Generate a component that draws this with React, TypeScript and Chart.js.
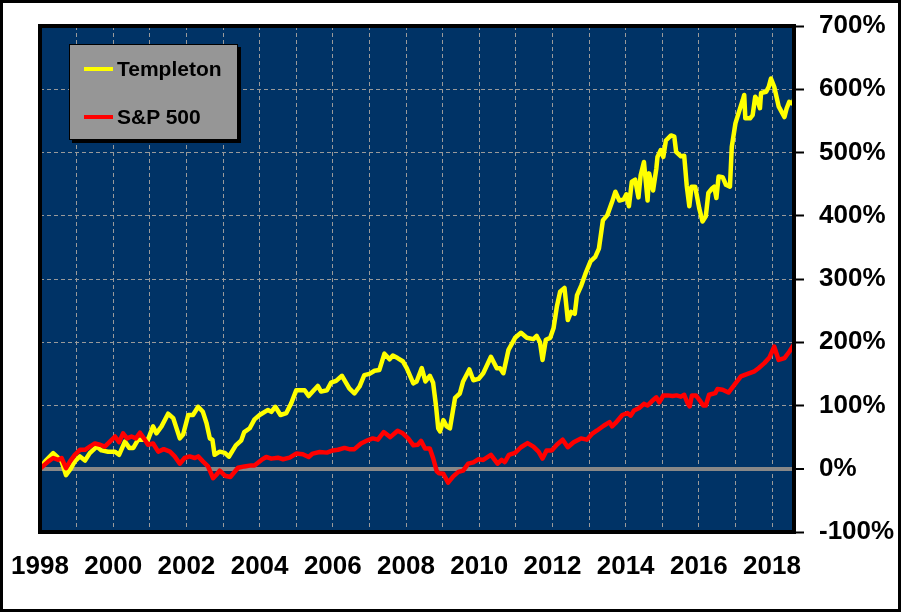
import React, { useEffect, useRef } from 'react'
import { Chart, LineController, LineElement, PointElement, LinearScale } from 'chart.js'

Chart.register(LineController, LineElement, PointElement, LinearScale)

// Templeton, cumulative return (%) by decimal year
const templetonYears = [
  1998.0, 1998.14, 1998.36, 1998.5, 1998.59, 1998.71, 1998.82, 1998.95, 1999.09, 1999.23, 1999.36, 1999.55, 1999.68, 1999.86,
  2000.05, 2000.16, 2000.32, 2000.44, 2000.55, 2000.68, 2000.82, 2000.95, 2001.09, 2001.18, 2001.32, 2001.5, 2001.64, 2001.82,
  2001.91, 2002.05, 2002.18, 2002.32, 2002.45, 2002.55, 2002.64, 2002.71, 2002.77, 2002.91, 2003.05, 2003.16, 2003.35, 2003.5,
  2003.58, 2003.73, 2003.86, 2004.0, 2004.23, 2004.32, 2004.43, 2004.57, 2004.73, 2004.86, 2005.0, 2005.23, 2005.34, 2005.45,
  2005.59, 2005.68, 2005.84, 2005.95, 2006.09, 2006.25, 2006.45, 2006.59, 2006.73, 2006.86, 2007.0, 2007.14, 2007.27, 2007.41,
  2007.55, 2007.64, 2007.77, 2007.91, 2008.02, 2008.2, 2008.29, 2008.43, 2008.53, 2008.65, 2008.74, 2008.82, 2008.88, 2008.93,
  2009.02, 2009.11, 2009.2, 2009.34, 2009.47, 2009.56, 2009.73, 2009.84, 2009.98, 2010.11, 2010.32, 2010.48, 2010.57, 2010.66,
  2010.8, 2010.98, 2011.14, 2011.3, 2011.48, 2011.57, 2011.66, 2011.73, 2011.82, 2011.94, 2012.03, 2012.12, 2012.21, 2012.33,
  2012.42, 2012.51, 2012.61, 2012.67, 2012.79, 2012.9, 2013.04, 2013.17, 2013.27, 2013.38, 2013.5, 2013.63, 2013.72, 2013.83,
  2013.95, 2014.02, 2014.09, 2014.17, 2014.26, 2014.35, 2014.41, 2014.5, 2014.6, 2014.64, 2014.75, 2014.84, 2014.87, 2014.96,
  2015.03, 2015.1, 2015.24, 2015.33, 2015.38, 2015.51, 2015.6, 2015.67, 2015.74, 2015.8, 2015.9, 2016.01, 2016.1, 2016.19,
  2016.26, 2016.36, 2016.42, 2016.48, 2016.54, 2016.65, 2016.74, 2016.85, 2016.9, 2017.0, 2017.1, 2017.2, 2017.24, 2017.27,
  2017.4, 2017.47, 2017.54, 2017.6, 2017.67, 2017.7, 2017.84, 2017.91, 2017.97, 2018.06, 2018.18, 2018.34, 2018.4, 2018.47,
  2018.57, 2018.61, 2018.66,
]
const templetonValues = [
  0, 11.6, 24.7, 17, 11.6, -10, -1.6, 11.6, 19.5, 13, 24.7, 35, 29, 27,
  27, 22, 43, 33, 33, 46, 46, 46, 67, 56, 67, 87, 80, 48,
  54, 85, 85, 98, 90, 72, 48, 46, 22, 27, 25, 19, 37, 45,
  58, 64, 78, 85, 93, 90, 98, 85, 88, 103, 124, 124, 115, 122,
  131, 122, 124, 136, 139, 147, 127, 119, 130, 148, 150, 155, 156, 182,
  173, 179, 175, 170, 159, 135, 138, 159, 138, 147, 136, 99, 64, 59,
  77, 67, 64, 112, 119, 138, 157, 140, 142, 151, 177, 159, 159, 151,
  188, 207, 215, 207, 205, 210, 200, 172, 204, 207, 222, 256, 280, 286,
  235, 248, 245, 274, 290, 308, 328, 335, 348, 393, 401, 422, 438, 424,
  426, 434, 415, 454, 457, 429, 464, 485, 424, 467, 440, 475, 493, 504,
  493, 519, 527, 525, 501, 494, 495, 447, 415, 446, 446, 412, 391, 399,
  436, 443, 446, 428, 462, 461, 449, 446, 509, 546, 565, 583, 591, 554,
  554, 559, 588, 583, 570, 594, 596, 604, 617, 604, 573, 556, 570, 580,
  577, 586, 557,
]

// S&P 500, cumulative return (%) by decimal year
const spYears = [
  1998.0, 1998.23, 1998.36, 1998.5, 1998.59, 1998.71, 1998.82, 1998.95, 1999.09, 1999.23, 1999.36, 1999.5, 1999.64, 1999.77,
  1999.91, 2000.05, 2000.16, 2000.27, 2000.38, 2000.5, 2000.62, 2000.73, 2000.84, 2000.95, 2001.09, 2001.23, 2001.38, 2001.55,
  2001.68, 2001.82, 2001.95, 2002.09, 2002.23, 2002.32, 2002.45, 2002.59, 2002.73, 2002.82, 2002.91, 2003.05, 2003.2, 2003.41,
  2003.59, 2003.77, 2003.86, 2004.05, 2004.18, 2004.32, 2004.5, 2004.64, 2004.82, 2005.0, 2005.18, 2005.34, 2005.45, 2005.64,
  2005.84, 2006.0, 2006.14, 2006.32, 2006.45, 2006.59, 2006.77, 2006.95, 2007.09, 2007.23, 2007.39, 2007.57, 2007.77, 2007.91,
  2008.06, 2008.2, 2008.32, 2008.41, 2008.52, 2008.65, 2008.74, 2008.84, 2008.9, 2009.02, 2009.15, 2009.29, 2009.43, 2009.56,
  2009.7, 2009.84, 2009.98, 2010.11, 2010.32, 2010.5, 2010.61, 2010.7, 2010.81, 2010.98, 2011.14, 2011.32, 2011.48, 2011.62,
  2011.73, 2011.84, 2011.98, 2012.12, 2012.28, 2012.42, 2012.58, 2012.78, 2012.94, 2013.08, 2013.22, 2013.4, 2013.56, 2013.63,
  2013.72, 2013.91, 2014.05, 2014.14, 2014.23, 2014.37, 2014.5, 2014.6, 2014.72, 2014.84, 2014.92, 2015.03, 2015.15, 2015.28,
  2015.39, 2015.51, 2015.6, 2015.69, 2015.75, 2015.81, 2015.92, 2016.05, 2016.12, 2016.19, 2016.28, 2016.45, 2016.51, 2016.65,
  2016.81, 2016.97, 2017.15, 2017.33, 2017.52, 2017.63, 2017.79, 2017.93, 2018.06, 2018.18, 2018.34, 2018.47, 2018.66,
]
const spValues = [
  0, 11.6, 17, 14, 17, 1, 11.6, 22, 30, 30, 35, 40, 38, 35,
  43, 51, 42, 56, 48, 51, 48, 57, 48, 38, 40, 27, 31, 27,
  19.5, 8, 17, 19.5, 17, 19.5, 11.6, 3.7, -15, -9.5, -3, -11, -13, 1.6,
  3.7, 5.3, 5.3, 14, 18.6, 16, 17.5, 15, 17.5, 24, 23, 18.6, 24, 26.5,
  25.5, 29, 30, 33, 31, 31, 40, 45, 48, 46, 58, 50, 60, 56,
  48, 37, 38, 44, 32, 32, 17, -4, -7, -8, -22, -12, -5, -3,
  8, 10, 15, 14, 22, 8, 14, 10.5, 22, 25, 34, 40.6, 35, 27,
  16, 29, 29, 38, 46, 34, 42, 48, 46, 55, 60.5, 68, 73.6, 67,
  72, 85, 88, 84, 92, 96, 102.6, 100, 107, 113, 105, 116, 116, 115,
  116, 114, 117, 104, 98.5, 116, 116, 106, 100, 100, 117, 119.5, 126, 125,
  120.5, 132.7, 146, 150, 154, 159, 167, 176, 193, 172, 175, 185, 202,
]

const yearTicks = [1998, 2000, 2002, 2004, 2006, 2008, 2010, 2012, 2014, 2016, 2018]
const percentTicks = [-100, 0, 100, 200, 300, 400, 500, 600, 700]

const NAVY = '#003366'
const FONT = 'Arial, "Liberation Sans", sans-serif'

const plotFrame = {
  id: 'plotFrame',
  beforeDraw(chart: Chart) {
    const { ctx, chartArea: a } = chart
    ctx.save()
    ctx.fillStyle = NAVY
    ctx.fillRect(a.left, a.top, a.width, a.height)
    ctx.restore()
  },
  afterDraw(chart: Chart) {
    const { ctx, chartArea: a } = chart
    ctx.save()
    ctx.strokeStyle = '#000'
    ctx.lineWidth = 4
    ctx.strokeRect(a.left, a.top, a.width, a.height)
    ctx.restore()
  },
}

const legendText: React.CSSProperties = {
  fontFamily: FONT,
  fontWeight: 'bold',
  fontSize: 21,
  color: '#000',
  lineHeight: '24px',
}

export default function App() {
  const canvasRef = useRef<HTMLCanvasElement>(null)
  const chartRef = useRef<Chart | null>(null)

  useEffect(() => {
    if (!canvasRef.current) return
    chartRef.current?.destroy()

    chartRef.current = new Chart(canvasRef.current, {
      type: 'line',
      data: {
        datasets: [
          {
            label: 'S&P 500',
            data: spYears.map((x, i) => ({ x, y: spValues[i] })),
            borderColor: '#ff0000',
            borderWidth: 4.5,
            pointRadius: 0,
            tension: 0,
            borderJoinStyle: 'round',
          },
          {
            label: 'Templeton',
            data: templetonYears.map((x, i) => ({ x, y: templetonValues[i] })),
            borderColor: '#ffff00',
            borderWidth: 4.5,
            pointRadius: 0,
            tension: 0,
            borderJoinStyle: 'round',
          },
        ],
      },
      plugins: [plotFrame],
      options: {
        responsive: false,
        animation: false,
        events: [],
        layout: { padding: { left: 37, top: 23, right: 0, bottom: 0 } },
        plugins: { legend: { display: false }, tooltip: { enabled: false } },
        scales: {
          x: {
            type: 'linear',
            min: 1998,
            max: 2018.6,
            afterFit: (scale: any) => {
              scale.height = 77
              scale.paddingLeft = 0
              scale.paddingRight = 0
            },
            grid: { color: '#9a9a9a', lineWidth: 1, drawTicks: false },
            border: { display: false, dash: [4, 3] },
            ticks: {
              stepSize: 1,
              includeBounds: false,
              autoSkip: false,
              maxRotation: 0,
              padding: 19,
              color: '#000',
              font: { family: FONT, size: 26, weight: 'bold' },
              callback: (v: any) => (yearTicks.includes(Number(v)) ? String(v) : ''),
            },
          },
          y: {
            type: 'linear',
            position: 'right',
            min: percentTicks[0],
            max: percentTicks[percentTicks.length - 1],
            afterFit: (scale: any) => {
              scale.width = 104
              scale.paddingTop = 0
              scale.paddingBottom = 0
            },
            grid: {
              color: (c: any) => (c.tick && c.tick.value === 0 ? '#888888' : '#9a9a9a'),
              lineWidth: (c: any) => (c.tick && c.tick.value === 0 ? 4 : 1),
              tickLength: 10,
              tickColor: '#000',
              tickWidth: 2,
              tickBorderDash: [],
            },
            border: {
              display: false,
              dash: (c: any) => (c.tick && c.tick.value === 0 ? [] : [4, 3]),
            },
            ticks: {
              stepSize: 100,
              padding: 15,
              color: '#000',
              font: { family: FONT, size: 26, weight: 'bold' },
              callback: (v: any) => `${v}%`,
            },
          },
        },
      },
    })

    return () => {
      chartRef.current?.destroy()
      chartRef.current = null
    }
  }, [])

  return (
    <div
      style={{
        position: 'absolute',
        left: 0,
        top: 0,
        width: 901,
        height: 612,
        boxSizing: 'border-box',
        border: '3px solid #000',
        background: '#fff',
      }}
    >
      <canvas ref={canvasRef} width={895} height={606} style={{ display: 'block' }} />
      <div
        style={{
          position: 'absolute',
          left: 66,
          top: 41,
          width: 167,
          height: 94,
          background: '#969696',
          border: '1px solid #000',
          boxShadow: '3px 3px 0 #000',
        }}
      >
        {[
          { name: 'Templeton', color: '#ffff00', top: 12 },
          { name: 'S&P 500', color: '#ff0000', top: 60 },
        ].map(item => (
          <div key={item.name} style={{ position: 'absolute', left: 14, top: item.top, display: 'flex', alignItems: 'center' }}>
            <span style={{ display: 'inline-block', width: 29, height: 4, background: item.color, marginRight: 4 }} />
            <span style={legendText}>{item.name}</span>
          </div>
        ))}
      </div>
    </div>
  )
}
